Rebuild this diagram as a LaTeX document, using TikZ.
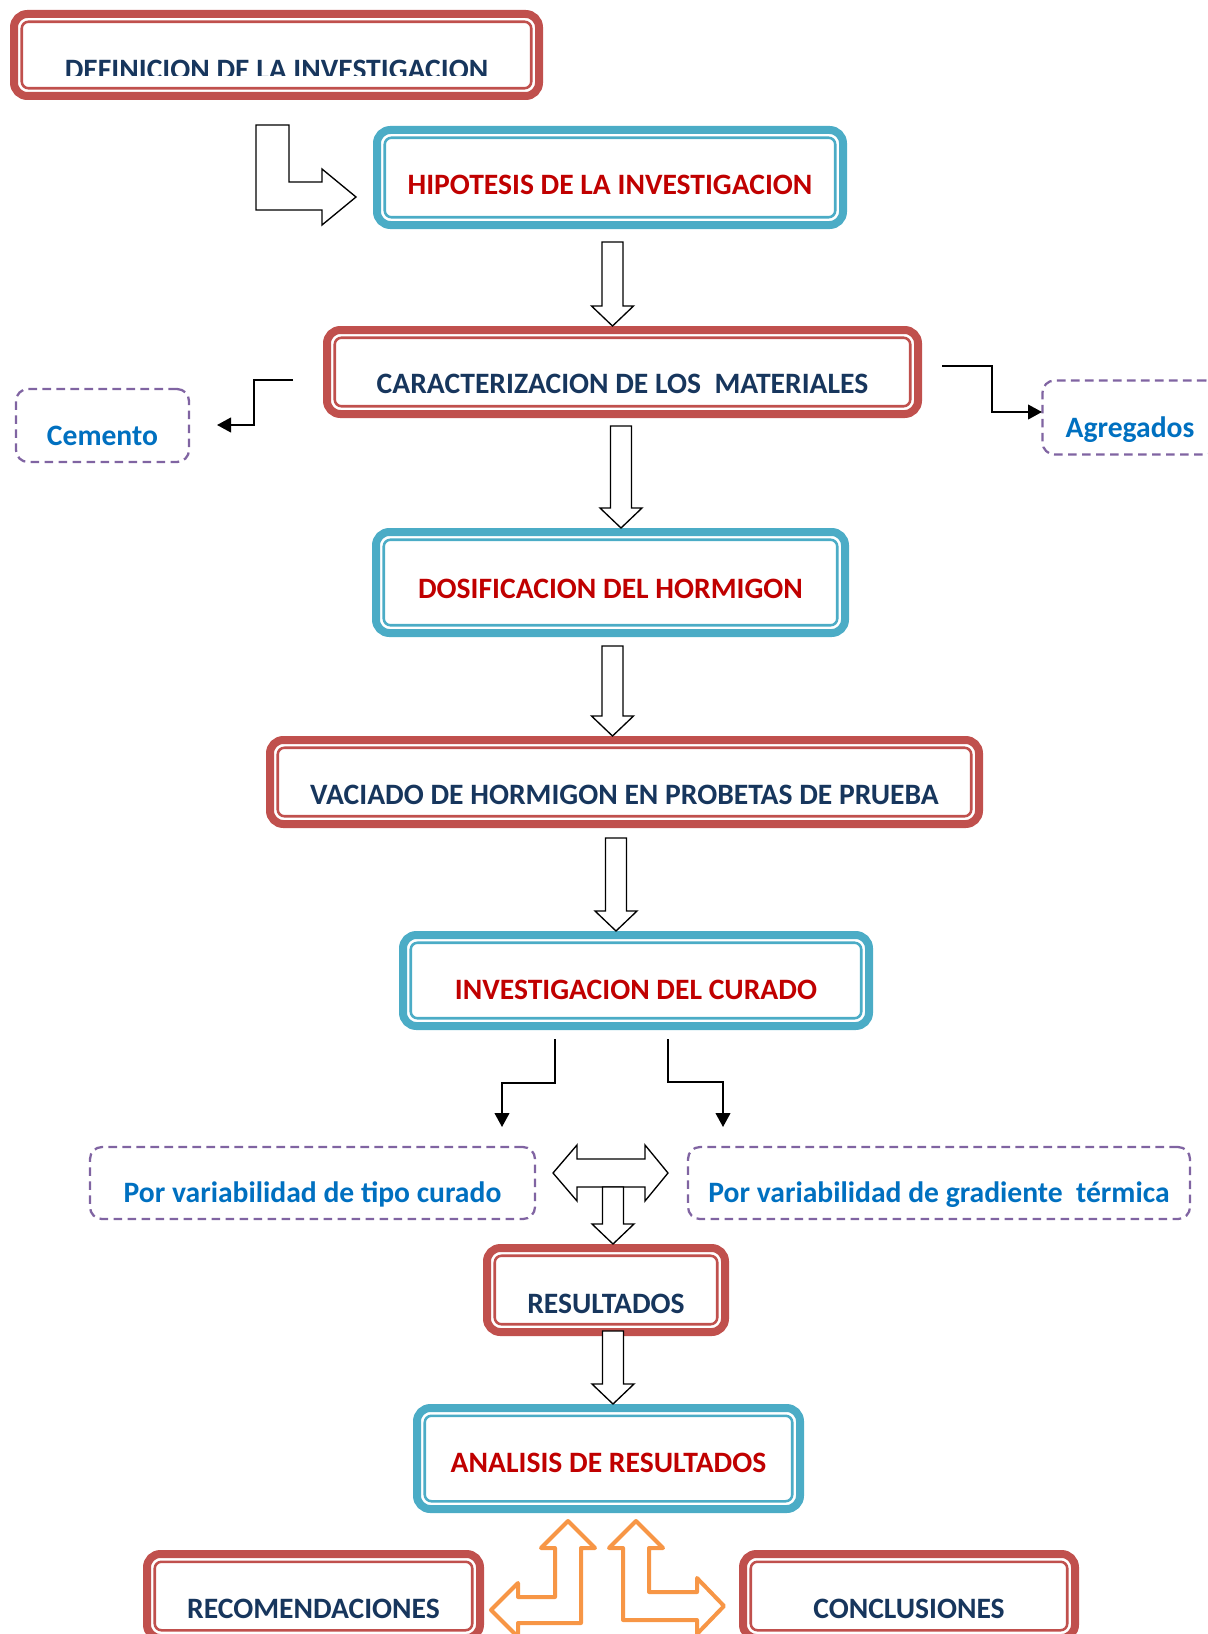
\documentclass[tikz,border=0pt]{standalone}
\usepackage{fontspec}
\setmainfont{Carlito}
\usepackage{xcolor}
\usepackage{tikz}
\usetikzlibrary{arrows.meta, calc}
\definecolor{boxred}{HTML}{C0504D}
\definecolor{boxblue}{HTML}{4BACC6}
\definecolor{navytxt}{HTML}{17365D}
\definecolor{redtxt}{HTML}{C00000}
\definecolor{bluetxt}{HTML}{0070C0}
\definecolor{dashpurple}{HTML}{8064A2}
\definecolor{orangeb}{HTML}{F79646}
\tikzset{
    every node/.style={font=\fontsize{22.2}{26}\selectfont\bfseries},
    redbox/.style={rectangle, rounded corners=10pt, draw=boxred,
                   line width=6pt, text=navytxt, text depth=0pt},
    bluebox/.style={rectangle, rounded corners=10pt, draw=boxblue,
                    line width=6pt, text=redtxt, text depth=0pt},
    dashbox/.style={rectangle, rounded corners=9pt, draw=dashpurple,
                    line width=1.7pt, dash pattern=on 6.5pt off 4pt,
                    text=bluetxt, text depth=0pt},
    innerline/.style={line width=1.9pt, rounded corners=5pt},
    blkarr/.style={draw=black, fill=white, line width=1pt},
    orarr/.style={draw=orangeb, fill=white, line width=3pt, line join=round},
    elbarr/.style={-{Triangle[length=10.5pt,width=11pt]}, line width=1.5pt, draw=black}
}
% hollow arrow pointing down, from a coordinate to the top of a node
\newcommand{\blockdown}[2]{%
  \draw[blkarr] ($(#1)+(-10.5,0)$) -- ($(#1)+(10.5,0)$)
    -- ($(#1 |- #2.north)+(10.5,-20)$) -- ($(#1 |- #2.north)+(21,-20)$)
    -- (#1 |- #2.north) -- ($(#1 |- #2.north)+(-21,-20)$)
    -- ($(#1 |- #2.north)+(-10.5,-20)$) -- cycle;}

\begin{document}
\begin{tikzpicture}[x=0.75pt, y=-0.75pt]
\useasboundingbox (0,0) rectangle (1207,1634);

\node[redbox,  minimum width=393.75pt, minimum height=61.5pt,  text height=37.5pt]  at (276.5,55)    (def)  {DEFINICION DE LA INVESTIGACION};
\node[bluebox, minimum width=349.5pt,  minimum height=71.25pt, text height=25.5pt]  at (610,177.5)   (hip)  {HIPOTESIS DE LA INVESTIGACION};
\node[redbox,  minimum width=443.25pt, minimum height=63pt,    text height=31.5pt]  at (622.5,372)   (car)  {CARACTERIZACION DE LOS~ MATERIALES};
\node[dashbox, minimum width=129.75pt, minimum height=54.75pt, text height=29.25pt] at (102.5,425.5) (cem)  {Cemento};
\node[dashbox, minimum width=131.25pt, minimum height=55.5pt,  text height=29.25pt] at (1130,417.5)  (agr)  {Agregados};
\node[bluebox, minimum width=351.75pt, minimum height=75.75pt, text height=23.25pt] at (610.5,582.5) (dos)  {DOSIFICACION DEL HORMIGON};
\node[redbox,  minimum width=531.75pt, minimum height=63pt,    text height=33pt]    at (624.5,782)   (vac)  {VACIADO DE HORMIGON EN PROBETAS DE PRUEBA};
\node[bluebox, minimum width=349.5pt,  minimum height=68.25pt, text height=27.75pt] at (636,980.5)   (cur)  {INVESTIGACION DEL CURADO};
\node[dashbox, minimum width=333.75pt, minimum height=54pt,    text height=28.5pt]  at (312.5,1183)  (tip)  {Por variabilidad de tipo curado};
\node[dashbox, minimum width=376.5pt,  minimum height=54pt,    text height=28.5pt]  at (939,1183)    (grad) {Por variabilidad de gradiente~ térmica};
\node[redbox,  minimum width=178.5pt,  minimum height=63pt,    text height=34.5pt]  at (606,1290)    (res)  {RESULTADOS};
\node[bluebox, minimum width=287.25pt, minimum height=75.75pt, text height=20.25pt] at (608.5,1458.5) (ana) {ANALISIS DE RESULTADOS};
\node[redbox,  minimum width=249.75pt, minimum height=63pt,    text height=33pt]    at (313.5,1596)  (rec)  {RECOMENDACIONES};
\node[redbox,  minimum width=249pt,    minimum height=63pt,    text height=33pt]    at (909,1596)    (con)  {CONCLUSIONES};

% first title is cut off at the bottom
\fill[white] (55,76.5) rectangle (500,84);

% thin inner border of the double frames
\foreach \n/\c in {def/boxred, car/boxred, vac/boxred, res/boxred, rec/boxred, con/boxred,
                   hip/boxblue, dos/boxblue, cur/boxblue, ana/boxblue}
  \draw[innerline, draw=\c] ([shift={(11.75,11.75)}]\n.north west) rectangle ([shift={(-11.75,-11.75)}]\n.south east);

% bent hollow arrow
\draw[blkarr] (256,125) -- (289,125) -- (289,182) -- (322,182) -- (322,169) -- (356,197)
  -- (322,225) -- (322,210) -- (256,210) -- cycle;

% hollow arrows down the chain
\coordinate (a1) at (612.5,242);
\coordinate (a2) at (621,426);
\coordinate (a3) at (612.5,646);
\coordinate (a4) at (616,838);
\coordinate (a5) at (613,1187);
\coordinate (a6) at (613,1331);

% double arrow between the two curing branches
\draw[blkarr] (553,1173) -- (577,1145) -- (577,1159) -- (645,1159) -- (645,1145) -- (668,1173)
  -- (645,1201) -- (645,1187) -- (577,1187) -- (577,1201) -- cycle;

\foreach \s/\t in {a1/car, a2/dos, a3/vac, a4/cur, a5/res, a6/ana}
  \blockdown{\s}{\t};

% side branches
\coordinate (cemS)  at (293,380);  \coordinate (cemE)  at (217,425);
\coordinate (agrS)  at (942,366);  \coordinate (agrE)  at (1042,412);
\coordinate (tipS)  at (555,1039); \coordinate (tipE)  at (502,1127);
\coordinate (gradS) at (668,1039); \coordinate (gradE) at (723,1127);
\draw[elbarr] (cemS)  -- ++(-39,0) |- (cemE);
\draw[elbarr] (agrS)  -- ++(50,0)  |- (agrE);
\draw[elbarr] (tipS)  -- ++(0,44)  -| (tipE);
\draw[elbarr] (gradS) -- ++(0,43)  -| (gradE);

% orange bent arrows
\draw[orarr] (568,1521) -- (595,1548) -- (581,1548) -- (581,1623) -- (518,1623) -- (518,1637)
  -- (491,1610) -- (518,1583) -- (518,1597) -- (555,1597) -- (555,1548) -- (541,1548) -- cycle;
\draw[orarr] (636,1521) -- (663,1548) -- (649,1548) -- (649,1592) -- (697,1592) -- (697,1578)
  -- (724,1606) -- (697,1634) -- (697,1620) -- (623,1620) -- (623,1548) -- (609,1548) -- cycle;
\end{tikzpicture}
\end{document}
